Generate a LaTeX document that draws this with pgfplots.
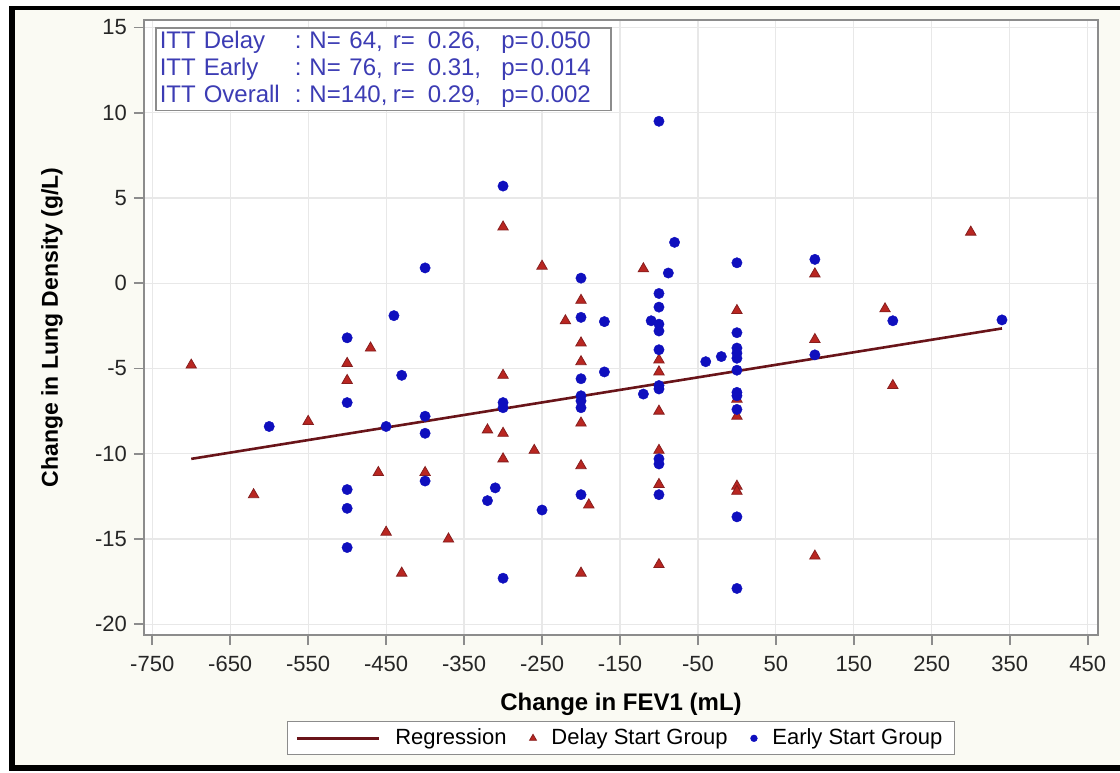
\documentclass[border=0pt]{standalone}
\usepackage{fontspec}
\setmainfont{Liberation Sans}
\usepackage{pgfplots}
\pgfplotsset{compat=1.18}

\definecolor{bgcream}{RGB}{250,250,243}
\definecolor{delayred}{RGB}{185,38,33}
\definecolor{delayedge}{RGB}{135,30,30}
\definecolor{earlyblue}{RGB}{15,15,190}
\definecolor{regline}{RGB}{105,20,25}
\definecolor{stattext}{RGB}{60,60,180}
\definecolor{gridgray}{RGB}{232,232,232}
\definecolor{axisgray}{RGB}{140,140,140}

\pgfplotsset{
  lineleg/.style={legend image code/.code={\draw[regline, line width=1.3pt] (0pt,0pt) -- (41pt,0pt);}},
  triLeg/.style={legend image code/.code={\draw[##1, mark size=2pt, mark repeat=2, mark phase=2] plot coordinates {(0pt,0pt) (4pt,0pt) (8pt,0pt)};}},
  dotLeg/.style={legend image code/.code={\draw[##1, mark size=1.7pt, mark repeat=2, mark phase=2] plot coordinates {(0pt,0pt) (4pt,0pt) (8pt,0pt)};}},
}

\newcommand\statrow[4]{\makebox[67.5pt][l]{#1}\makebox[49pt][l]{:\ N=\hfill#2,\hspace{5pt}}\makebox[17.5pt][l]{r=}\makebox[36.8pt][l]{#3,}p=\hspace{1pt}#4}

\begin{document}
\begin{tikzpicture}
\useasboundingbox (-72pt,-68.5pt) rectangle (488pt,317.5pt);
\fill[bgcream] (-65.75pt,-66.5pt) rectangle (488pt,313.5pt);
\begin{axis}[
  at={(0pt,0pt)}, anchor=south west,
  scale only axis, width=477pt, height=307.5pt,
  xmin=-760.6, xmax=463.2, ymin=-20.63, ymax=15.44,
  xtick={-750,-650,...,450}, ytick={-20,-15,...,15},
  tick pos=left, tick align=outside,
  major tick length=5pt,
  tick style={axisgray, line width=0.8pt},
  axis line style={axisgray, line width=1pt},
  grid=major, grid style={gridgray, line width=0.6pt},
  axis background/.style={fill=white},
  ticklabel style={font=\fontsize{11}{13}\selectfont, text=black!85},
  /pgf/number format/assume math mode=true,
  xticklabel style={yshift=-2pt},
  xlabel={Change in FEV1 (mL)},
  ylabel={Change in Lung Density (g/L)},
  xlabel style={font=\bfseries\fontsize{12}{14}\selectfont, at={(axis description cs:0.5,-0.112)}, anchor=center},
  ylabel style={font=\bfseries\fontsize{11.5}{14}\selectfont, at={(axis description cs:-0.0964,0.5)}, anchor=center},
  legend style={
    at={(axis description cs:0.5,-0.168)}, anchor=center,
    draw=axisgray, fill=white, line width=0.6pt,
    font=\fontsize{11}{13}\selectfont,
    inner xsep=4pt, inner ysep=1.5pt,
    /tikz/every odd column/.style={column sep=5.5pt},
    /tikz/every even column/.style={column sep=9.5pt},
  },
  legend columns=3,
  legend cell align=left,
]
\addplot[regline, line width=1.3pt, lineleg]
  coordinates {(-700,-10.3) (340,-2.65)};
\addlegendentry{Regression}

\addplot[only marks, mark=triangle*, mark size=3pt,
  mark options={fill=delayred, draw=delayedge, line width=0.4pt}, triLeg]
  coordinates {
(-700,-4.8) (-620,-12.4) (-550,-8.1) (-500,-4.7) (-500,-5.7) (-470,-3.8)
(-460,-11.1) (-450,-14.6) (-430,-17.0) (-400,-11.1) (-370,-15.0) (-320,-8.6)
(-300,3.3) (-300,-5.4) (-300,-8.8) (-300,-10.3) (-260,-9.8) (-250,1.0)
(-220,-2.2) (-200,-1.0) (-200,-3.5) (-200,-4.6) (-200,-8.2) (-200,-10.7)
(-200,-17.0) (-190,-13.0) (-120,0.85) (-100,-4.5) (-100,-5.2) (-100,-7.5)
(-100,-9.8) (-100,-11.8) (-100,-16.5) (0,-1.6) (0,-6.8) (0,-7.8) (0,-11.9)
(0,-12.2) (100,0.55) (100,-3.3) (100,-16.0) (190,-1.5) (200,-6.0) (300,3.0)
  };
\addlegendentry{Delay Start Group}

\addplot[only marks, mark=*, mark size=2.6pt,
  mark options={fill=earlyblue, draw=earlyblue, line width=0.2pt}, dotLeg]
  coordinates {
(-600,-8.4) (-500,-3.2) (-500,-7.0) (-500,-12.1) (-500,-13.2) (-500,-15.5)
(-450,-8.4) (-440,-1.9) (-430,-5.4) (-400,0.9) (-400,-7.8) (-400,-8.8)
(-400,-11.6) (-320,-12.75) (-310,-12.0) (-300,5.7) (-300,-7.0) (-300,-7.3)
(-300,-17.3) (-250,-13.3) (-200,0.3) (-200,-2.0) (-200,-5.6) (-200,-6.6)
(-200,-6.9) (-200,-7.3) (-200,-12.4) (-170,-2.25) (-170,-5.2) (-120,-6.5)
(-110,-2.2) (-100,9.5) (-100,-0.6) (-100,-1.4) (-100,-2.4) (-100,-2.8)
(-100,-3.9) (-100,-6.0) (-100,-6.2) (-100,-10.3) (-100,-10.6) (-100,-12.4)
(-88,0.6) (-80,2.4) (-40,-4.6) (-20,-4.3) (0,1.2) (0,-2.9) (0,-3.8)
(0,-4.1) (0,-4.4) (0,-5.1) (0,-6.4) (0,-6.6) (0,-7.4) (0,-13.7) (0,-17.9)
(100,1.4) (100,-4.2) (200,-2.2) (340,-2.15)
  };
\addlegendentry{Early Start Group}

\node[anchor=north west, draw=axisgray, line width=0.8pt, fill=white,
  text=stattext, align=left, font=\fontsize{12}{13.5}\selectfont,
  inner xsep=2pt, inner ysep=1.5pt, text width=223.5pt]
  at ([xshift=5.5pt,yshift=-3.65pt]rel axis cs:0,1)
  {\statrow{ITT Delay}{64}{0.26}{0.050}\\
   \statrow{ITT Early}{76}{0.31}{0.014}\\
   \statrow{ITT Overall}{140}{0.29}{0.002}};
\end{axis}
\draw[black, line width=3pt] (-65.75pt,-66.5pt) -- (-65.75pt,313.5pt);
\draw[black, line width=3pt] (-67.25pt,-66.5pt) -- (488pt,-66.5pt);
\draw[black, line width=2pt] (-67.25pt,313.5pt) -- (488pt,313.5pt);
\end{tikzpicture}
\end{document}
